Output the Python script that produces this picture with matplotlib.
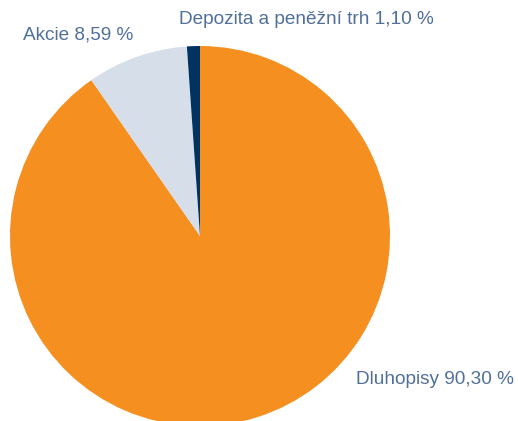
import matplotlib.pyplot as plt
import numpy as np

plt.rcParams["font.family"] = ["Liberation Sans", "DejaVu Sans"]

labels = ["Dluhopisy 90,30 %", "Akcie 8,59 %", "Depozita a peněžní trh 1,10 %"]
values = [90.30, 8.59, 1.10]
colors = ["#F58F20", "#D6DEEA", "#00335F"]
text_color = "#50709A"

fig = plt.figure(figsize=(5.18, 4.21), dpi=100)
ax = fig.add_axes([0, 0, 1, 1])

ax.pie(values, colors=colors, startangle=90, counterclock=False,
       center=(200, 185), radius=190, frame=True,
       wedgeprops=dict(linewidth=0))
ax.set_xlim(0, 518)
ax.set_ylim(0, 421)
ax.set_aspect("equal")
ax.axis("off")

ax.text(356, 41, labels[0], fontsize=13.7, color=text_color, va="center", ha="left")
ax.text(23, 386, labels[1], fontsize=13.7, color=text_color, va="center", ha="left")
ax.text(179, 401, labels[2], fontsize=13.7, color=text_color, va="center", ha="left")

fig.savefig("out.png", dpi=100)
